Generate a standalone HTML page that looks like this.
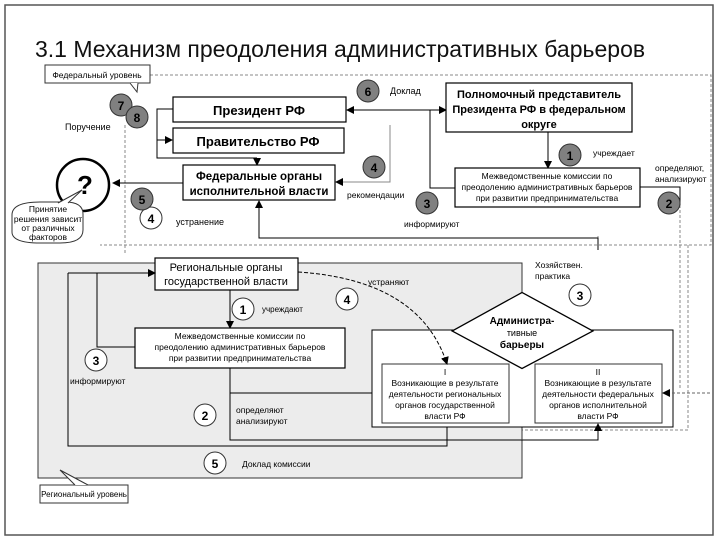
<!DOCTYPE html>
<html><head><meta charset="utf-8"><style>
html,body{margin:0;padding:0;background:#fff;}
svg{display:block;font-family:"Liberation Sans",sans-serif;}
</style></head><body>
<svg width="720" height="540" viewBox="0 0 720 540" xmlns="http://www.w3.org/2000/svg">
<defs>
<marker id="a" markerWidth="8" markerHeight="8" refX="7" refY="4" orient="auto" markerUnits="userSpaceOnUse"><path d="M0,0 L8,4 L0,8 z" fill="#000"/></marker>
</defs>
<rect x="5" y="5" width="708" height="530" fill="none" stroke="#555" stroke-width="1.5"/>
<text x="35" y="57" font-size="23" fill="#111">3.1 Механизм преодоления административных барьеров</text>

<g stroke="#888" stroke-dasharray="3,2" fill="none" stroke-width="1">
<path d="M150,75 H711 V245 H100"/>
<path d="M125,125 V255"/>
<path d="M688,245 V430 H522"/>
<path d="M680,205 V390"/>
<path d="M598,236 V250"/>
</g>

<rect x="38" y="263" width="484" height="215" fill="#ececec" stroke="#333" stroke-width="1"/>

<rect x="45" y="65" width="105" height="18" fill="#fff" stroke="#333"/>
<text x="97" y="78" font-size="8.5" text-anchor="middle">Федеральный уровень</text>
<path d="M130,83 L137,92 L138,83" fill="#fff" stroke="#333"/>

<circle cx="121" cy="105" r="11" fill="#808080" stroke="#333"/>
<text x="121" y="110" font-size="12" font-weight="bold" text-anchor="middle">7</text>
<circle cx="137" cy="117" r="11" fill="#808080" stroke="#333"/>
<text x="137" y="122" font-size="12" font-weight="bold" text-anchor="middle">8</text>
<text x="65" y="130" font-size="9">Поручение</text>

<rect x="173" y="97" width="173" height="25" fill="#fff" stroke="#000" stroke-width="1.2"/>
<text x="259" y="115" font-size="13" font-weight="bold" text-anchor="middle">Президент РФ</text>
<rect x="173" y="128" width="171" height="25" fill="#fff" stroke="#000" stroke-width="1.2"/>
<text x="258" y="146" font-size="13" font-weight="bold" text-anchor="middle">Правительство РФ</text>
<path d="M173,109 H157 V158 H257" fill="none" stroke="#000"/>
<path d="M157,140 H172" fill="none" stroke="#000" marker-end="url(#a)"/>
<path d="M257,158 V165" fill="none" stroke="#000" marker-end="url(#a)"/>

<rect x="183" y="165" width="152" height="35" fill="#fff" stroke="#000" stroke-width="1.2"/>
<text x="259" y="180" font-size="11.5" font-weight="bold" text-anchor="middle">Федеральные органы</text>
<text x="259" y="195" font-size="11.5" font-weight="bold" text-anchor="middle">исполнительной власти</text>
<path d="M183,183 H113" fill="none" stroke="#000" marker-end="url(#a)"/>

<circle cx="83" cy="185" r="26" fill="#fff" stroke="#000" stroke-width="2.5"/>
<text x="85" y="194" font-size="26" font-weight="bold" text-anchor="middle">?</text>
<path d="M40,202 Q12,202 12,215 V232 Q12,243 40,243 H60 Q83,243 83,230 V214 Q83,202 65,202 Z" fill="#fff" stroke="#333"/>
<path d="M58,203 L82,190 L68,203" fill="#fff" stroke="#333"/>
<text x="48" y="212" font-size="8.5" text-anchor="middle">Принятие</text>
<text x="48" y="222" font-size="8.5" text-anchor="middle">решения зависит</text>
<text x="48" y="231" font-size="8.5" text-anchor="middle">от различных</text>
<text x="48" y="240" font-size="8.5" text-anchor="middle">факторов</text>

<circle cx="151" cy="218" r="11" fill="#fff" stroke="#333"/>
<text x="151" y="223" font-size="12" font-weight="bold" text-anchor="middle">4</text>
<circle cx="142" cy="199" r="11" fill="#808080" stroke="#333"/>
<text x="142" y="204" font-size="12" font-weight="bold" text-anchor="middle">5</text>
<text x="176" y="225" font-size="9">устранение</text>

<path d="M598,250 V238 H259 V201" fill="none" stroke="#000" marker-end="url(#a)"/>

<circle cx="368" cy="91" r="11" fill="#808080" stroke="#333"/>
<text x="368" y="96" font-size="12" font-weight="bold" text-anchor="middle">6</text>
<text x="390" y="94" font-size="9">Доклад</text>
<path d="M430,110 H347" fill="none" stroke="#000" marker-end="url(#a)"/>
<path d="M430,110 H446" fill="none" stroke="#000" marker-end="url(#a)"/>
<path d="M430,110 V188 H455" fill="none" stroke="#000"/>

<rect x="446" y="83" width="186" height="49" fill="#fff" stroke="#000" stroke-width="1.2"/>
<text x="539" y="98" font-size="11" font-weight="bold" text-anchor="middle">Полномочный представитель</text>
<text x="539" y="113" font-size="11" font-weight="bold" text-anchor="middle">Президента РФ в федеральном</text>
<text x="539" y="128" font-size="11" font-weight="bold" text-anchor="middle">округе</text>
<path d="M548,132 V168" fill="none" stroke="#000" marker-end="url(#a)"/>
<circle cx="570" cy="155" r="11" fill="#808080" stroke="#333"/>
<text x="570" y="160" font-size="12" font-weight="bold" text-anchor="middle">1</text>
<text x="593" y="156" font-size="8.5">учреждает</text>

<rect x="455" y="168" width="185" height="39" fill="#fff" stroke="#000" stroke-width="1.2"/>
<text x="547" y="179" font-size="8.5" text-anchor="middle">Межведомственные комиссии по</text>
<text x="547" y="190" font-size="8.5" text-anchor="middle">преодолению административных барьеров</text>
<text x="547" y="201" font-size="8.5" text-anchor="middle">при развитии предпринимательства</text>
<path d="M640,187 H680 V205" fill="none" stroke="#000"/>
<circle cx="669" cy="203" r="11" fill="#808080" stroke="#333"/>
<text x="669" y="208" font-size="12" font-weight="bold" text-anchor="middle">2</text>
<text x="655" y="171" font-size="8.5">определяют,</text>
<text x="655" y="182" font-size="8.5">анализируют</text>

<circle cx="374" cy="167" r="11" fill="#808080" stroke="#333"/>
<text x="374" y="172" font-size="12" font-weight="bold" text-anchor="middle">4</text>
<path d="M390,125 V182 H336" fill="none" stroke="#888" marker-end="url(#a)"/>
<text x="347" y="198" font-size="8.5">рекомендации</text>
<circle cx="427" cy="203" r="11" fill="#808080" stroke="#333"/>
<text x="427" y="208" font-size="12" font-weight="bold" text-anchor="middle">3</text>
<text x="404" y="227" font-size="8.5">информируют</text>

<rect x="155" y="258" width="143" height="32" fill="#fff" stroke="#000" stroke-width="1.2"/>
<text x="226" y="271" font-size="11" text-anchor="middle">Региональные органы</text>
<text x="226" y="285" font-size="11" text-anchor="middle">государственной власти</text>
<path d="M68,273 H155" fill="none" stroke="#000" marker-end="url(#a)"/>
<path d="M68,273 V446 H447 V424" fill="none" stroke="#000"/>
<path d="M97,273 V347 H135" fill="none" stroke="#000"/>
<path d="M230,290 V328" fill="none" stroke="#000" marker-end="url(#a)"/>
<circle cx="243" cy="309" r="11" fill="#fff" stroke="#333"/>
<text x="243" y="314" font-size="12" font-weight="bold" text-anchor="middle">1</text>
<text x="262" y="312" font-size="8">учреждают</text>

<rect x="135" y="328" width="210" height="40" fill="#fff" stroke="#000" stroke-width="1.2"/>
<text x="240" y="339" font-size="8.5" text-anchor="middle">Межведомственные комиссии по</text>
<text x="240" y="350" font-size="8.5" text-anchor="middle">преодолению административных барьеров</text>
<text x="240" y="361" font-size="8.5" text-anchor="middle">при развитии предпринимательства</text>
<path d="M230,368 V440 H598 V424" fill="none" stroke="#000" marker-end="url(#a)"/>
<path d="M230,393 H381" fill="none" stroke="#000" marker-end="url(#a)"/>

<circle cx="96" cy="360" r="11" fill="#fff" stroke="#333"/>
<text x="96" y="365" font-size="12" font-weight="bold" text-anchor="middle">3</text>
<text x="70" y="384" font-size="8.5">информируют</text>
<circle cx="205" cy="415" r="11" fill="#fff" stroke="#333"/>
<text x="205" y="420" font-size="12" font-weight="bold" text-anchor="middle">2</text>
<text x="236" y="413" font-size="8.5">определяют</text>
<text x="236" y="424" font-size="8.5">анализируют</text>
<circle cx="347" cy="299" r="11" fill="#fff" stroke="#333"/>
<text x="347" y="304" font-size="12" font-weight="bold" text-anchor="middle">4</text>
<text x="368" y="285" font-size="8.5">устраняют</text>
<circle cx="215" cy="463" r="11" fill="#fff" stroke="#333"/>
<text x="215" y="468" font-size="12" font-weight="bold" text-anchor="middle">5</text>
<text x="242" y="467" font-size="8.5">Доклад комиссии</text>

<path d="M522,263 V440" stroke="#333" fill="none"/>
<text x="535" y="268" font-size="8.5">Хозяйствен.</text>
<text x="535" y="279" font-size="8.5">практика</text>
<circle cx="580" cy="295" r="11" fill="#fff" stroke="#333"/>
<text x="580" y="300" font-size="12" font-weight="bold" text-anchor="middle">3</text>

<rect x="372" y="330" width="301" height="97" fill="#fff" stroke="#000"/>
<rect x="382" y="364" width="127" height="59" fill="#fff" stroke="#333"/>
<text x="445" y="375" font-size="8.5" text-anchor="middle">I</text>
<text x="445" y="386" font-size="8.5" text-anchor="middle">Возникающие в результате</text>
<text x="445" y="397" font-size="8.5" text-anchor="middle">деятельности региональных</text>
<text x="445" y="408" font-size="8.5" text-anchor="middle">органов государственной</text>
<text x="445" y="419" font-size="8.5" text-anchor="middle">власти РФ</text>
<rect x="535" y="364" width="127" height="59" fill="#fff" stroke="#333"/>
<text x="598" y="375" font-size="8.5" text-anchor="middle">II</text>
<text x="598" y="386" font-size="8.5" text-anchor="middle">Возникающие в результате</text>
<text x="598" y="397" font-size="8.5" text-anchor="middle">деятельности федеральных</text>
<text x="598" y="408" font-size="8.5" text-anchor="middle">органов исполнительной</text>
<text x="598" y="419" font-size="8.5" text-anchor="middle">власти РФ</text>
<path d="M598,440 V424" fill="none" stroke="#000" marker-end="url(#a)"/>
<path d="M710,393 H663" fill="none" stroke="#666" stroke-dasharray="3,2" marker-end="url(#a)"/>

<polygon points="522,294 590,331 522,367 455,331" fill="#fff" stroke="#000" stroke-width="4"/>
<polygon points="522,294 590,331 522,367 455,331" fill="#fff" stroke="#fff" stroke-width="1.4"/>
<text x="522" y="324" font-size="10" font-weight="bold" text-anchor="middle">Администра-</text>
<text x="522" y="336" font-size="9" text-anchor="middle">тивные</text>
<text x="522" y="348" font-size="10" font-weight="bold" text-anchor="middle">барьеры</text>

<path d="M298,272 Q420,280 447,364" fill="none" stroke="#000" stroke-dasharray="4,2" marker-end="url(#a)"/>

<rect x="40" y="485" width="88" height="18" fill="#fff" stroke="#333"/>
<text x="84" y="497" font-size="8" text-anchor="middle">Региональный уровень</text>
<path d="M75,485 L60,470 L88,485" fill="#fff" stroke="#333"/>
</svg>
</body></html>
